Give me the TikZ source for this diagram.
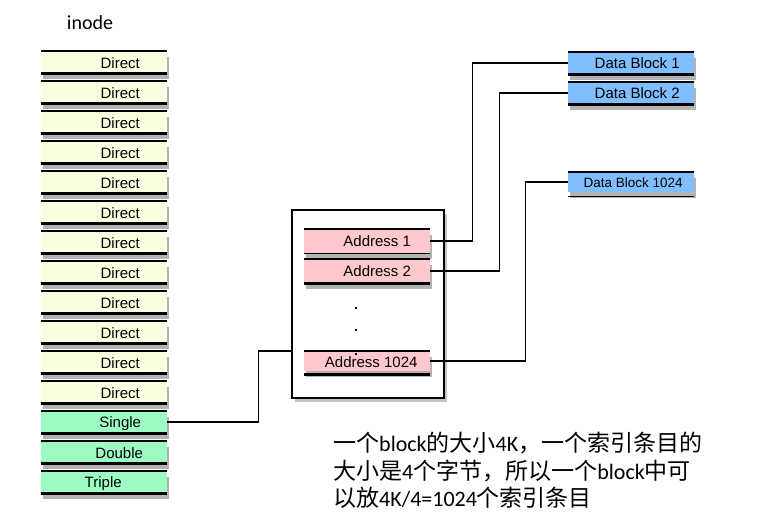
\documentclass[tikz,border=0pt]{standalone}
\usepackage{fontspec}
\setmainfont{Liberation Sans}
\newfontfamily\cjk{Noto Sans CJK SC}
\newfontfamily\cali{Carlito}
\usetikzlibrary{shadows}
\definecolor{dirfill}{HTML}{FCFEE0}
\definecolor{indfill}{HTML}{9CFCC4}
\definecolor{addrfill}{HTML}{FFC8CC}
\definecolor{blkfill}{HTML}{80BFFF}
\tikzset{
	slot/.style={rectangle, minimum width=126, minimum height=22, inner sep=0,
		anchor=north west, drop shadow={shadow xshift=2pt, shadow yshift=-6pt, opacity=.6}},
	lbl/.style={font=\fontsize{15}{15}\selectfont, inner sep=0},
	top/.style={line width=1.1},
	bot/.style={line width=2.4},
	wire/.style={line width=1.8},
}
\begin{document}
\begin{tikzpicture}[x=1pt, y=-1pt]
	\useasboundingbox (0,0) rectangle (780,525);
	\node[font=\cali\fontsize{20}{20}\selectfont] (title) at (90,23) {inode};
	% inode slots
	\foreach \i in {1,...,12}{
		\node[slot, fill=dirfill, label={[lbl,xshift=16,yshift=-1]center:Direct}] (d\i) at (41,{21+30*\i}) {};
		\draw[top] (d\i.north west) -- (d\i.north east);
		\draw[bot] (d\i.south west) -- (d\i.south east);
	}
	\node[slot, fill=indfill, label={[lbl,xshift=16,yshift=-1]center:Single}] (sgl) at (41,411) {};
	\node[slot, fill=indfill, label={[lbl,xshift=15,yshift=-1]center:Double}] (dbl) at (41,441) {};
	\node[slot, fill=indfill, label={[lbl,xshift=-1,yshift=-1]center:Triple}] (tpl) at (41,471) {};
	\foreach \n in {sgl,dbl,tpl}{
		\draw[top] (\n.north west) -- (\n.north east);
		\draw[bot] (\n.south west) -- (\n.south east);
	}
	% indirect block
	\node[draw, line width=2, fill=white, minimum width=152, minimum height=188, inner sep=0,
		anchor=north west, drop shadow={shadow xshift=3pt, shadow yshift=-4pt, opacity=.45}] (ptr) at (291,209) {};
	\node[slot, fill=addrfill, minimum height=24, drop shadow={opacity=0}, label={[lbl,xshift=10]center:Address 1}] (a1) at (304,229) {};
	\node[slot, fill=addrfill, minimum height=24, drop shadow={opacity=0}, label={[lbl,xshift=10]center:Address 2}] (a2) at (304,259) {};
	\node[slot, fill=addrfill, minimum height=20, drop shadow={opacity=0}, label={[lbl,xshift=4,yshift=-1]center:Address 1024}] (a3) at (304,351) {};
	\draw[top] (a1.north west) -- (a1.north east);
	\draw[top] (a1.south west) -- (a1.south east);
	\draw[bot] (a2.north west) -- (a2.north east);
	\draw[bot] (a2.south west) -- (a2.south east);
	\draw[top] (a3.north west) -- (a3.north east);
	\draw[bot] ([yshift=-3]a3.south west) -- ([yshift=-3]a3.south east);
	\fill (355,307) rectangle (357,309);
	\fill (355,329) rectangle (357,331);
	\fill (355,353) rectangle (357,355);
	% data blocks
	\node[slot, fill=blkfill, label={[lbl,xshift=6]center:Data Block 1}] (b1) at (568,52) {};
	\node[slot, fill=blkfill, label={[lbl,xshift=6]center:Data Block 2}] (b2) at (568,82) {};
	\node[slot, fill=blkfill, minimum height=20,
		label={[lbl,font=\fontsize{13.5}{13.5}\selectfont,xshift=2]center:Data Block 1024}] (b3) at (568,172) {};
	\foreach \n in {b1,b2}{
		\draw[top] (\n.north west) -- (\n.north east);
		\draw[bot] (\n.south west) -- (\n.south east);
	}
	\draw[bot] (b3.north west) -- (b3.north east);
	\draw[top] ([yshift=-4]b3.south west) -- ([yshift=-4]b3.south east);
	% pointers
	\draw[wire] (sgl.east) -- ++(91,0) |- (ptr.west |- a3.north);
	\draw[wire] (a1.east) -- ++(42,0) |- (b1.west);
	\draw[wire] (a2.east) -- ++(69,0) |- (b2.west);
	\draw[wire] (a3.east) -- ++(95,0) |- (b3.west);
	\node[font=\cali\fontsize{22}{27.5}\selectfont, align=left, anchor=north west, inner sep=0] (note) at (333,432)
		{{\cjk\fontsize{23}{27.5}\selectfont 一个}block{\cjk\fontsize{23}{27.5}\selectfont 的大小}4K{\cjk\fontsize{23}{27.5}\selectfont ，一个索引条目的}\\
		{\cjk\fontsize{23}{27.5}\selectfont 大小是}4{\cjk\fontsize{23}{27.5}\selectfont 个字节，所以一个}block{\cjk\fontsize{23}{27.5}\selectfont 中可}\\
		{\cjk\fontsize{23}{27.5}\selectfont 以放}4K/4=1024{\cjk\fontsize{23}{27.5}\selectfont 个索引条目}};
\end{tikzpicture}
\end{document}
